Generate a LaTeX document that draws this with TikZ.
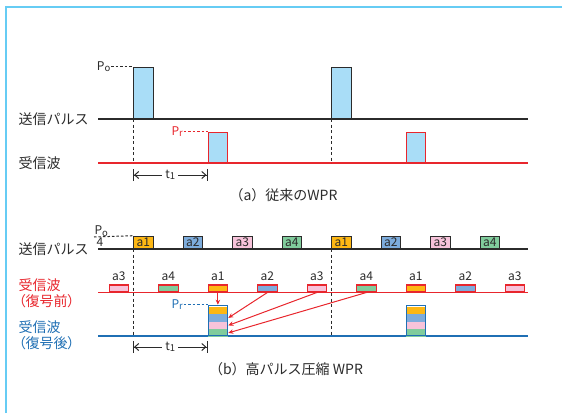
\documentclass[tikz,border=0pt]{standalone}
\usepackage{fontspec}
\setmainfont{Noto Sans CJK JP}
\newfontfamily\paltfont{Noto Sans CJK JP}[RawFeature=+palt]
\usetikzlibrary{arrows.meta, positioning}
\definecolor{framecol}{HTML}{66CCF4}
\definecolor{pulsefill}{HTML}{A9DDF7}
\definecolor{sigred}{HTML}{E8262D}
\definecolor{sigblue}{HTML}{1F6FB4}
\definecolor{inkgray}{HTML}{2B2B2B}
\definecolor{cola}{HTML}{FDB714}
\definecolor{colb}{HTML}{7DACDC}
\definecolor{colc}{HTML}{F7C3DA}
\definecolor{cold}{HTML}{80CC9C}
\newcommand{\lowsub}[1]{\raisebox{-1.5pt}{\fontsize{9.5}{10}\selectfont #1}}

\begin{document}
\begin{tikzpicture}[x=1pt, y=-1pt, >=Stealth, line width=1.3pt, text=inkgray,
  font=\fontsize{14}{16}\selectfont,
  lbl/.style={anchor=west, align=left, inner sep=0pt},
  captxt/.style={inner sep=0pt},
  sml/.style={font=\fontsize{12}{13}\selectfont, inner sep=0pt},
  tpulse/.style={draw=inkgray, fill=pulsefill, anchor=south west, inner sep=0pt, minimum width=19.5pt, minimum height=51pt},
  rpulse/.style={tpulse, draw=sigred, minimum height=30pt},
  tbox/.style={draw=inkgray, anchor=south west, inner sep=0pt, minimum width=19.5pt, minimum height=12pt, font=\fontsize{12}{13}\selectfont},
  rbox/.style={draw=sigred, anchor=south west, inner sep=0pt, minimum width=19.5pt, minimum height=7pt},
  band/.style={anchor=north west, inner sep=0pt, minimum width=19.5pt, minimum height=7.5pt},
  stack/.style={draw=sigblue, anchor=south west, inner sep=0pt, minimum width=19.5pt, minimum height=30pt},
  hdash/.style={line width=1pt, dash pattern=on 2.5pt off 2pt},
  vdash/.style={line width=1pt, draw=inkgray, dash pattern=on 3pt off 2.5pt},
  dim/.style={line width=1pt, draw=inkgray, {Bar[width=12pt]Straight Barb[length=4pt,width=7pt]}-{Straight Barb[length=4pt,width=7pt]Bar[width=12pt]}},
  map/.style={draw=sigred, line width=1pt, -{Stealth[length=5pt,width=4.5pt]}}]
  \useasboundingbox (0,0) rectangle (562,413);

  % 枠
  \draw[framecol, line width=1.6pt] (6,413) -- (6,7) -- (562,7);

  % (a) 従来のWPR
  \node[lbl] (txa) at (18,119) {送信パルス};
  \node[lbl] (rxa) at (18,163) {受信波};
  \draw[draw=inkgray] (98,119) -- (528,119);
  \draw[draw=sigred] (98,163) -- (528,163);
  \node[tpulse] (ta1) at (133,119) {};
  \node[tpulse] (ta2) at (331,119) {};
  \node[rpulse] (ra1) at (207.5,163) {};
  \node[rpulse] (ra2) at (405.5,163) {};
  \node[sml, left=22pt of ta1.north west] (poa) {P\lowsub{o}};
  \draw[hdash, draw=inkgray] (poa) -- (ta1.north west);
  \node[sml, text=sigred, left=24pt of ra1.north west] (pra) {P\lowsub{r}};
  \draw[hdash, draw=sigred] (pra) -- (ra1.north west);
  \draw[vdash] (ta1.south west) -- (ta1.south west |- rxa);
  \draw[vdash] (ta2.south west) -- (ta2.south west |- rxa);
  \coordinate (t1s) at (133,175);
  \coordinate (t1e) at (207.5,175);
  \draw[dim] (t1s) -- node[sml, fill=white, inner xsep=3pt] (t1a) {t\lowsub{1}} (t1e);
  \node[captxt] (capa) at (283.5,195) {（a）従来のWPR};

  % (b) 高パルス圧縮WPR
  \node[lbl] (txb) at (18,249) {送信パルス};
  \node[lbl, text=sigred, font=\paltfont\fontsize{14}{16}\selectfont] (rxb) at (18,293) {受信波\\（復号前）};
  \node[lbl, text=sigblue, font=\paltfont\fontsize{14}{16}\selectfont] (rxc) at (18,335.5) {受信波\\（復号後）};
  \draw[draw=inkgray] (98,249) -- (528,249);
  \draw[draw=sigred] (98,292.5) -- (528,292.5);
  \draw[draw=sigblue] (98,336) -- (528,336);

  % 送信パルス a1〜a4
  \node[tbox, fill=cola] (tb1) at (133,249) {a1};
  \node[tbox, fill=colb] (tb2) at (182.5,249) {a2};
  \node[tbox, fill=colc] (tb3) at (232,249) {a3};
  \node[tbox, fill=cold] (tb4) at (281.5,249) {a4};
  \node[tbox, fill=cola] (tb5) at (331,249) {a1};
  \node[tbox, fill=colb] (tb6) at (380.5,249) {a2};
  \node[tbox, fill=colc] (tb7) at (430,249) {a3};
  \node[tbox, fill=cold] (tb8) at (479.5,249) {a4};
  \node[sml, anchor=south west] (pob) at (94,237) {P\lowsub{o}};
  \node[sml, anchor=north west] (qb) at (96,237.5) {4};
  \draw[hdash, draw=inkgray] (pob.south west) -- (tb1.north west);

  % 受信波（復号前）
  \node[rbox, fill=colc] (rb1) at (108.5,292.5) {};
  \node[rbox, fill=cold] (rb2) at (158,292.5) {};
  \node[rbox, fill=cola] (rb3) at (207.5,292.5) {};
  \node[rbox, fill=colb] (rb4) at (257,292.5) {};
  \node[rbox, fill=colc] (rb5) at (306.5,292.5) {};
  \node[rbox, fill=cold] (rb6) at (356,292.5) {};
  \node[rbox, fill=cola] (rb7) at (405.5,292.5) {};
  \node[rbox, fill=colb] (rb8) at (455,292.5) {};
  \node[rbox, fill=colc] (rb9) at (504.5,292.5) {};
  \node[sml, above=3pt of rb1] (lb1) {a3};
  \node[sml, above=3pt of rb2] (lb2) {a4};
  \node[sml, above=3pt of rb3] (lb3) {a1};
  \node[sml, above=3pt of rb4] (lb4) {a2};
  \node[sml, above=3pt of rb5] (lb5) {a3};
  \node[sml, above=3pt of rb6] (lb6) {a4};
  \node[sml, above=3pt of rb7] (lb7) {a1};
  \node[sml, above=3pt of rb8] (lb8) {a2};
  \node[sml, above=3pt of rb9] (lb9) {a3};

  % 受信波（復号後）
  \node[band, fill=cola] (sa1) at (207.5,306) {};
  \node[band, fill=colb] (sa2) at (207.5,313.5) {};
  \node[band, fill=colc] (sa3) at (207.5,321) {};
  \node[band, fill=cold] (sa4) at (207.5,328.5) {};
  \node[stack] (st1) at (207.5,336) {};
  \node[band, fill=cola] (sb1) at (405.5,306) {};
  \node[band, fill=colb] (sb2) at (405.5,313.5) {};
  \node[band, fill=colc] (sb3) at (405.5,321) {};
  \node[band, fill=cold] (sb4) at (405.5,328.5) {};
  \node[stack] (st2) at (405.5,336) {};
  \node[sml, text=sigblue, left=24pt of st1.north west] (prb) {P\lowsub{r}};
  \draw[hdash, draw=sigblue] (prb) -- (st1.north west);

  % 圧縮
  \draw[map] (rb3.south) -- (st1.north);
  \draw[map] (rb4.south) -- (sa2.east);
  \draw[map] (rb5.south) -- (sa3.east);
  \draw[map] (rb6.south) -- (sa4.east);

  \draw[vdash] (tb1.south west) -- (tb1.south west |- st1.south);
  \draw[vdash] (tb5.south west) -- (tb5.south west |- st1.south);
  \coordinate (t1p) at (133,347);
  \coordinate (t1q) at (207.5,347);
  \draw[dim] (t1p) -- node[sml, fill=white, inner xsep=3pt] (t1b) {t\lowsub{1}} (t1q);
  \node[captxt] (capb) at (286,369) {（b）高パルス圧縮 WPR};
\end{tikzpicture}
\end{document}
